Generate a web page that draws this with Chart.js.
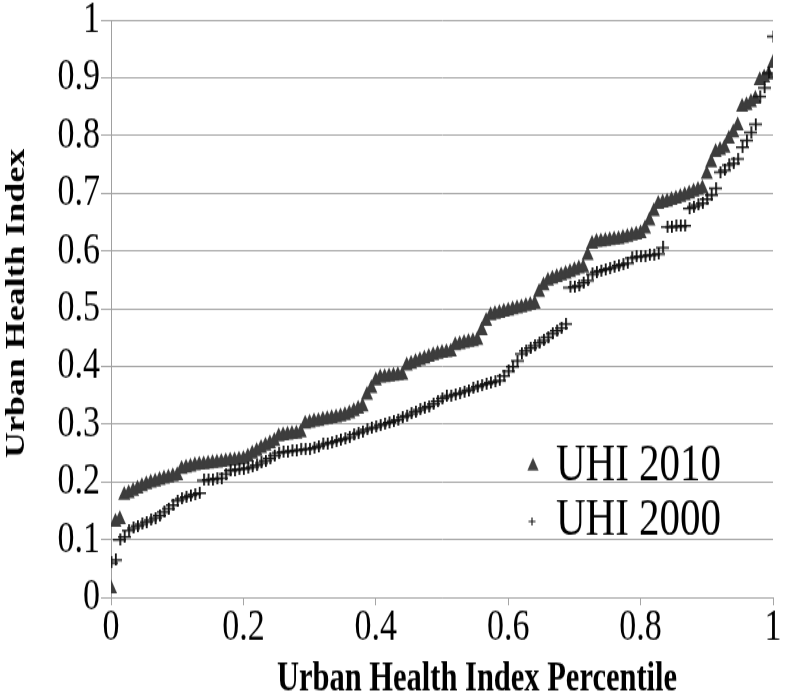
<!DOCTYPE html>
<html>
<head>
<meta charset="utf-8">
<script src="https://cdn.jsdelivr.net/npm/chart.js@4/dist/chart.umd.min.js"></script>
<style>
html{margin:0;padding:0;background:#fff;overflow:hidden}
body{margin:0;padding:0;background:#fff;width:786px;height:697px}
#wrap{width:786px;height:524px;transform:scaleY(1.3302);transform-origin:0 0}
canvas{display:block}
</style>
</head>
<body>
<div id="wrap"><canvas id="c" width="786" height="524"></canvas></div>
<script>
// ---- data (sorted index values; x = percentile rank) ----
const seriesNames = ['UHI 2010', 'UHI 2000'];
const xTitle = 'Urban Health Index Percentile';
const yTitle = 'Urban Health Index';
const xTicks = [0, 0.2, 0.4, 0.6, 0.8, 1];
const yTicks = [0, 0.1, 0.2, 0.3, 0.4, 0.5, 0.6, 0.7, 0.8, 0.9, 1];

const uhi2010 = [
0.015,0.130,0.135,0.177,0.180,0.184,0.188,0.192,0.195,0.198,
0.200,0.203,0.205,0.207,0.209,0.211,0.222,0.224,0.226,0.228,
0.229,0.230,0.231,0.232,0.233,0.234,0.235,0.236,0.237,0.238,
0.239,0.243,0.248,0.253,0.258,0.262,0.266,0.270,0.278,0.280,
0.281,0.282,0.283,0.285,0.300,0.302,0.304,0.305,0.307,0.308,
0.310,0.311,0.313,0.315,0.318,0.322,0.326,0.330,0.350,0.362,
0.375,0.380,0.381,0.382,0.383,0.384,0.385,0.401,0.404,0.407,
0.410,0.413,0.416,0.419,0.421,0.423,0.424,0.425,0.436,0.438,
0.440,0.442,0.443,0.445,0.462,0.478,0.488,0.490,0.492,0.494,
0.496,0.498,0.500,0.502,0.504,0.506,0.508,0.528,0.540,0.548,
0.551,0.554,0.557,0.560,0.563,0.566,0.569,0.571,0.592,0.612,
0.615,0.616,0.617,0.618,0.619,0.620,0.622,0.624,0.626,0.628,
0.630,0.638,0.652,0.668,0.681,0.683,0.685,0.688,0.690,0.693,
0.696,0.699,0.702,0.705,0.708,0.733,0.753,0.771,0.774,0.778,
0.794,0.805,0.817,0.849,0.852,0.857,0.863,0.895,0.900,0.905,
0.925
];

const uhi2000 = [
0.060,0.065,0.100,0.105,0.116,0.120,0.124,0.127,0.131,0.134,
0.138,0.142,0.148,0.154,0.160,0.168,0.171,0.174,0.177,0.179,
0.181,0.203,0.204,0.205,0.206,0.207,0.214,0.220,0.221,0.222,
0.223,0.224,0.226,0.229,0.233,0.237,0.241,0.246,0.251,0.252,
0.253,0.254,0.255,0.256,0.257,0.258,0.259,0.262,0.265,0.267,
0.269,0.271,0.273,0.275,0.277,0.282,0.285,0.288,0.291,0.293,
0.295,0.298,0.301,0.303,0.306,0.308,0.312,0.315,0.318,0.322,
0.325,0.328,0.331,0.335,0.340,0.345,0.348,0.350,0.352,0.354,
0.357,0.359,0.362,0.365,0.368,0.370,0.372,0.374,0.376,0.384,
0.392,0.400,0.410,0.422,0.427,0.432,0.436,0.441,0.445,0.451,
0.457,0.462,0.467,0.474,0.537,0.538,0.540,0.545,0.549,0.560,
0.564,0.566,0.568,0.570,0.572,0.575,0.577,0.579,0.588,0.590,
0.591,0.592,0.593,0.594,0.595,0.606,0.642,0.642,0.643,0.643,
0.644,0.674,0.677,0.680,0.683,0.690,0.697,0.709,0.737,0.740,
0.749,0.752,0.760,0.780,0.792,0.806,0.820,0.868,0.883,0.908,
0.972
];

// percentile rank of each sorted value
const toPoints = arr => arr.map((v, i) => ({x: i / (arr.length - 1), y: v}));

// plus-sign marker (slightly wider than tall, as in the reference)
function plusMarker(w, h, color) {
  const c = document.createElement('canvas');
  c.width = w; c.height = h;
  const g = c.getContext('2d');
  g.fillStyle = color;
  g.fillRect(0, Math.round(h / 2) - 1, w, 1.4);
  g.fillRect(Math.round(w / 2) - 1, 0, 1.8, h);
  return c;
}
const plusImg = plusMarker(13, 9, '#111111');

const SERIF = '"Liberation Serif", "Times New Roman", serif';

const titleShift = {
  id: 'titleShift',
  beforeDraw(chart) {
    const sx = chart.scales.x, sy = chart.scales.y;
    if (!sx.__shifted) {
      const o = sx.drawTitle;
      sx.drawTitle = function () { this.ctx.save(); this.ctx.translate(35, 0); o.call(this); this.ctx.restore(); };
      sx.__shifted = true;
    }
    if (!sy.__shifted) {
      const o = sy.drawTitle;
      sy.drawTitle = function () { this.ctx.save(); this.ctx.translate(0, -4); o.call(this); this.ctx.restore(); };
      sy.__shifted = true;
    }
  }
};

const inlineLegend = {
  id: 'inlineLegend',
  afterDraw(chart) {
    const ctx = chart.ctx;
    ctx.save();
    // triangle marker
    const r = 6.5, cx = 533, cy = 350.5;
    ctx.fillStyle = '#404040';
    ctx.beginPath();
    for (let k = 0; k < 3; k++) {
      const a = k * 2 * Math.PI / 3;
      const px = cx + Math.sin(a) * r, py = cy - Math.cos(a) * r;
      if (k === 0) ctx.moveTo(px, py); else ctx.lineTo(px, py);
    }
    ctx.closePath();
    ctx.fill();
    // plus marker
    ctx.fillStyle = '#1e1e1e';
    ctx.fillRect(528.5, 392 - 0.5, 7, 1);
    ctx.fillRect(532 - 0.6, 392 - 3, 1.2, 6);
    // texts
    ctx.fillStyle = '#000';
    ctx.font = '41px ' + SERIF;
    ctx.textAlign = 'left';
    ctx.textBaseline = 'middle';
    ctx.fillText(chart.data.datasets[0].label, 556, 350.4);
    ctx.fillText(chart.data.datasets[1].label, 556, 391.7);
    ctx.restore();
  }
};

new Chart(document.getElementById('c'), {
  type: 'scatter',
  data: {
    datasets: [
      {
        label: seriesNames[0],
        data: toPoints(uhi2010),
        pointStyle: 'triangle',
        pointRadius: 7,
        pointHoverRadius: 7,
        backgroundColor: '#3d3d3d',
        borderColor: '#3d3d3d',
        borderWidth: 0,
        order: 1
      },
      {
        label: seriesNames[1],
        data: toPoints(uhi2000),
        pointStyle: plusImg,
        pointRadius: 6,
        pointHoverRadius: 6,
        backgroundColor: '#111111',
        borderColor: '#111111',
        order: 0
      }
    ]
  },
  options: {
    responsive: false,
    animation: false,
    devicePixelRatio: 1,
    events: [],
    layout: {padding: {top: 15, right: 13, bottom: 0, left: 0}},
    plugins: {legend: {display: false}, tooltip: {enabled: false}},
    scales: {
      x: {
        type: 'linear',
        min: 0, max: 1,
        afterBuildTicks: s => { s.ticks = xTicks.map(v => ({value: v})); },
        afterFit: s => { s.height = 75; s.paddingLeft = 0; s.paddingRight = 0; },
        grid: {drawOnChartArea: false, drawTicks: true, tickLength: 6, color: '#a6a6a6', lineWidth: 1},
        border: {display: true, color: '#a6a6a6', width: 1},
        ticks: {
          font: {family: SERIF, size: 34, lineHeight: 1},
          color: '#000', padding: 0, maxRotation: 0, autoSkip: false,
          callback: v => String(v)
        },
        title: {
          display: true, text: xTitle, color: '#000', padding: 0,
          font: {family: SERIF, size: 30.5, weight: 'bold', lineHeight: 0.84}
        }
      },
      y: {
        type: 'linear',
        min: 0, max: 1,
        afterBuildTicks: s => { s.ticks = yTicks.map(v => ({value: v})); },
        afterFit: s => { s.width = 111; s.paddingTop = 0; s.paddingBottom = 0; },
        grid: {color: '#a6a6a6', lineWidth: 1, tickLength: 10, drawTicks: true},
        border: {display: true, color: '#a0a0a0', width: 1},
        ticks: {
          font: {family: SERIF, size: 34, lineHeight: 1},
          color: '#000', padding: 1, autoSkip: false,
          callback: v => String(v)
        },
        title: {
          display: true, text: yTitle, color: '#000', padding: {top: 4, bottom: 0},
          font: {family: SERIF, size: 27, weight: 'bold', lineHeight: 1}
        }
      }
    }
  },
  plugins: [titleShift, inlineLegend]
});
</script>
</body>
</html>
